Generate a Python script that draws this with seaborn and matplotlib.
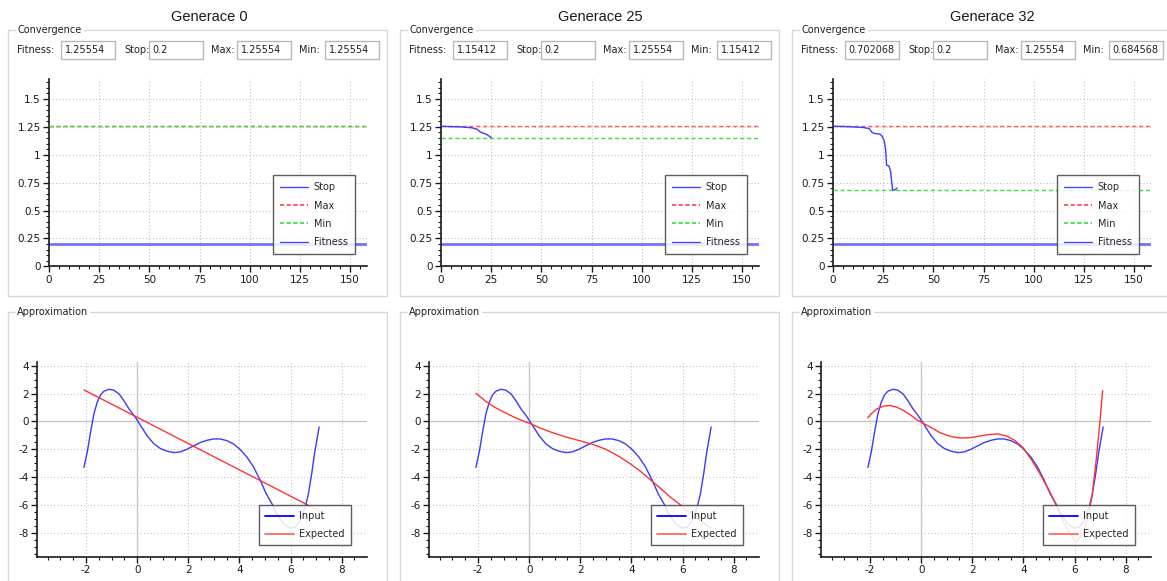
import matplotlib
matplotlib.use("Agg")
import matplotlib.pyplot as plt
from matplotlib.patches import Rectangle
from matplotlib.lines import Line2D
from matplotlib.ticker import AutoMinorLocator
import seaborn as sns

# ---- data ----
generations = [0, 25, 32]
fitness_txt = ["1.25554", "1.15412", "0.702068"]
stop_txt = ["0.2", "0.2", "0.2"]
max_txt = ["1.25554", "1.25554", "1.25554"]
min_txt = ["1.25554", "1.15412", "0.684568"]

stop_level = 0.2
max_level = [1.25554, 1.25554, 1.25554]
min_level = [1.25554, 1.15412, 0.684568]

fit_x = [
    [0],
    [0, 5, 10, 15, 18, 19.5, 21, 23, 25],
    [0, 5, 10, 15, 18, 19.5, 21, 23.5, 24.5, 25.5, 26.2, 26.7, 27.9, 28.7, 29.3, 29.7, 30.8, 32],
]
fit_y = [
    [1.25554],
    [1.25554, 1.253, 1.25, 1.243, 1.23, 1.205, 1.195, 1.18, 1.15412],
    [1.25554, 1.254, 1.25, 1.245, 1.235, 1.20, 1.19, 1.185, 1.165, 1.125, 1.05, 0.905, 0.90, 0.85,
     0.75, 0.6846, 0.6846, 0.702],
]

input_x = [-2.08, -1.95, -1.82, -1.69, -1.56, -1.43, -1.30, -1.10, -0.91, -0.71, -0.52, -0.32,
           -0.13, 0.0, 0.19, 0.39, 0.65, 0.91, 1.17, 1.43, 1.69, 1.95, 2.21, 2.47, 2.73, 2.99,
           3.25, 3.51, 3.77, 4.03, 4.29, 4.55, 4.81, 5.06, 5.30, 5.45, 5.71, 5.97, 6.17, 6.36,
           6.56, 6.69, 6.82, 6.95, 7.12]
input_y = [-3.31, -2.19, -0.76, 0.55, 1.38, 1.90, 2.17, 2.31, 2.24, 1.98, 1.50, 0.90,
           0.45, 0.10, -0.45, -1.03, -1.60, -1.95, -2.14, -2.24, -2.19, -2.00, -1.76, -1.52,
           -1.36, -1.26, -1.26, -1.38, -1.62, -2.02, -2.55, -3.26, -4.21, -5.24, -6.00, -6.60,
           -7.31, -7.67, -7.62, -7.19, -6.24, -5.29, -3.86, -2.19, -0.40]

expected_x = [
    [-2.08, 0.0, 2.0, 4.0, 6.0, 6.6, 7.12],
    [-2.08, -1.7, -1.4, -1.0, -0.6, -0.3, 0.0, 0.4, 0.9, 1.4, 1.9, 2.47, 3.0, 3.5, 4.0, 4.4,
     4.71, 5.1, 5.5, 5.9, 6.3, 6.7, 7.1],
    [-2.09, -1.92, -1.73, -1.47, -1.21, -0.95, -0.69, -0.43, -0.17, 0.0, 0.35, 0.74, 1.13, 1.52,
     1.91, 2.3, 2.69, 3.01, 3.34, 3.66, 3.99, 4.31, 4.64, 4.96, 5.22, 5.55, 5.81, 6.04, 6.32,
     6.52, 6.69, 6.84, 6.97, 7.1],
]
expected_y = [
    [2.26, 0.30, -1.59, -3.48, -5.37, -5.94, -6.43],
    [2.02, 1.45, 1.07, 0.68, 0.32, 0.08, -0.12, -0.45, -0.80, -1.10, -1.35, -1.64, -2.0, -2.5,
     -3.1, -3.65, -4.14, -4.75, -5.4, -5.97, -6.6, -7.15, -7.64],
    [0.26, 0.6, 0.9, 1.1, 1.14, 1.02, 0.79, 0.48, 0.12, -0.05, -0.4, -0.81, -1.07, -1.19,
     -1.17, -1.05, -0.93, -0.9, -1.05, -1.36, -1.9, -2.74, -3.74, -4.81, -5.76, -7.19, -8.0,
     -8.67, -8.14, -6.95, -5.29, -2.9, -0.52, 2.21],
]

conv_xticks = [0, 25, 50, 75, 100, 125, 150]
conv_yticks = [0, 0.25, 0.5, 0.75, 1, 1.25, 1.5]
conv_ylabels = ["0", "0.25", "0.5", "0.75", "1", "1.25", "1.5"]
appr_xticks = [-2, 0, 2, 4, 6, 8]
appr_yticks = [4, 2, 0, -2, -4, -6, -8]

# ---- layout (pixels of the 1167x581 screenshot) ----
W, H = 1167, 581
DX = 392.0


def fx(px):
    return px / W


def fy(py):
    return 1 - py / H


sns.set_theme(style="white")
plt.rcParams["font.family"] = ["DejaVu Sans"]
plt.rcParams["axes.unicode_minus"] = False

fig = plt.figure(figsize=(W / 100, H / 100), dpi=100)
fig.patch.set_facecolor("white")


def style_axes(ax, nminor_x, nminor_y):
    for s in ("top", "right"):
        ax.spines[s].set_visible(False)
    for s in ("left", "bottom"):
        ax.spines[s].set_color("#1a1a1a")
        ax.spines[s].set_linewidth(1.2)
    ax.xaxis.set_minor_locator(AutoMinorLocator(nminor_x))
    ax.yaxis.set_minor_locator(AutoMinorLocator(nminor_y))
    ax.tick_params(which="major", direction="out", length=4, width=1, labelsize=7.5,
                   colors="#1a1a1a", pad=2, left=True, bottom=True)
    ax.tick_params(which="minor", direction="out", length=2, width=0.8,
                   colors="#1a1a1a", left=True, bottom=True)
    ax.grid(True, which="major", color="#c4c4c4", linestyle=(0, (1, 2)), linewidth=0.8)
    ax.set_axisbelow(True)
    ax.set_facecolor("white")
    ax.set_xlabel("")
    ax.set_ylabel("")


def group_box(x0, y0, w, h, title):
    fig.add_artist(Rectangle((fx(x0), fy(y0 + h)), w / W, h / H, transform=fig.transFigure,
                             fill=False, edgecolor="#d8d8d8", linewidth=1))
    fig.text(fx(x0 + 9), fy(y0), title, ha="left", va="center", fontsize=7, color="#202020",
             bbox=dict(facecolor="white", edgecolor="none", pad=1))


label_pos = [17.3, 124, 211, 299]
field_pos = [61, 149, 237, 325]
field_names = ["Fitness:", "Stop:", "Max:", "Min:"]

for i, gen in enumerate(generations):
    dx = i * DX

    fig.text(fx(209 + dx * 0.9987), fy(17), f"Generace {gen}", ha="center", va="center",
             fontsize=10.5, family="Liberation Sans", color="#1a1a1a")

    # Convergence group
    group_box(8 + dx, 30, 379, 266, "Convergence")
    values = [fitness_txt[i], stop_txt[i], max_txt[i], min_txt[i]]
    for lp, fp, name, val in zip(label_pos, field_pos, field_names, values):
        fig.text(fx(lp + dx), fy(50), name, ha="left", va="center", fontsize=7, color="#202020")
        fig.add_artist(Rectangle((fx(fp + dx), fy(59)), 54 / W, 18 / H, transform=fig.transFigure,
                                 facecolor="white", edgecolor="#b8b8b8", linewidth=1))
        fig.text(fx(fp + dx + 3.5), fy(50), val, ha="left", va="center", fontsize=7, color="#202020")

    ax = fig.add_axes([fx(49 + dx), fy(266.3), 317.7 / W, 187 / H])
    ax.axhline(stop_level, color="#7272ff", lw=2, zorder=2)
    ax.axhline(max_level[i], color="#ff5a5a", lw=1, ls=(0, (3, 2)), zorder=3)
    ax.axhline(min_level[i], color="#3fdc3f", lw=1, ls=(0, (3, 2)), zorder=3)
    if len(fit_x[i]) > 1:
        sns.lineplot(x=fit_x[i], y=fit_y[i], ax=ax, color="#3c3cff", lw=1,
                     estimator=None, sort=False, zorder=4)
    ax.set_xlim(0, 158.3)
    ax.set_ylim(0, 1.677)
    ax.set_xticks(conv_xticks)
    ax.set_yticks(conv_yticks)
    ax.set_yticklabels(conv_ylabels)
    style_axes(ax, 5, 5)
    handles = [
        Line2D([], [], color="#4646ff", lw=1),
        Line2D([], [], color="#ff4040", lw=1.2, ls=(0, (2.5, 1.5))),
        Line2D([], [], color="#33dd33", lw=1.2, ls=(0, (2.5, 1.5))),
        Line2D([], [], color="#4646ff", lw=1),
    ]
    leg = ax.legend(handles, ["Stop", "Max", "Min", "Fitness"], loc="upper left",
                    bbox_to_anchor=(fx(272.7 + dx), fy(175)), bbox_transform=fig.transFigure,
                    fontsize=7, frameon=True, fancybox=False, framealpha=0.85,
                    edgecolor="#404040", borderpad=0.75, labelspacing=0.85,
                    handlelength=2.9, handletextpad=0.55, borderaxespad=0)
    leg.get_frame().set_linewidth(1)

    # Approximation group
    group_box(8 + dx, 312, 379, 300, "Approximation")
    bx = fig.add_axes([fx(37.3 + dx), fy(556.7), 329.4 / W, 195 / H])
    bx.axhline(0, color="#c8c8c8", lw=1, zorder=1)
    bx.axvline(0, color="#c8c8c8", lw=1, zorder=1)
    sns.lineplot(x=input_x, y=input_y, ax=bx, color="#3a3aff", lw=1,
                 estimator=None, sort=False, zorder=3)
    sns.lineplot(x=expected_x[i], y=expected_y[i], ax=bx, color="#ff3434", lw=1,
                 estimator=None, sort=False, zorder=4)
    bx.set_xlim(-3.905, 8.98)
    bx.set_ylim(-9.72, 4.29)
    bx.set_xticks(appr_xticks)
    bx.set_yticks(appr_yticks)
    style_axes(bx, 4, 4)
    handles = [
        Line2D([], [], color="#0000ff", lw=1.3),
        Line2D([], [], color="#ff6a6a", lw=1.3),
    ]
    leg = bx.legend(handles, ["Input", "Expected"], loc="upper left",
                    bbox_to_anchor=(fx(259 + dx), fy(505)), bbox_transform=fig.transFigure,
                    fontsize=7, frameon=True, fancybox=False, framealpha=0.85,
                    edgecolor="#404040", borderpad=0.65, labelspacing=0.8,
                    handlelength=2.9, handletextpad=0.6, borderaxespad=0)
    leg.get_frame().set_linewidth(1)

fig.savefig("out.png", dpi=100, facecolor="white")
